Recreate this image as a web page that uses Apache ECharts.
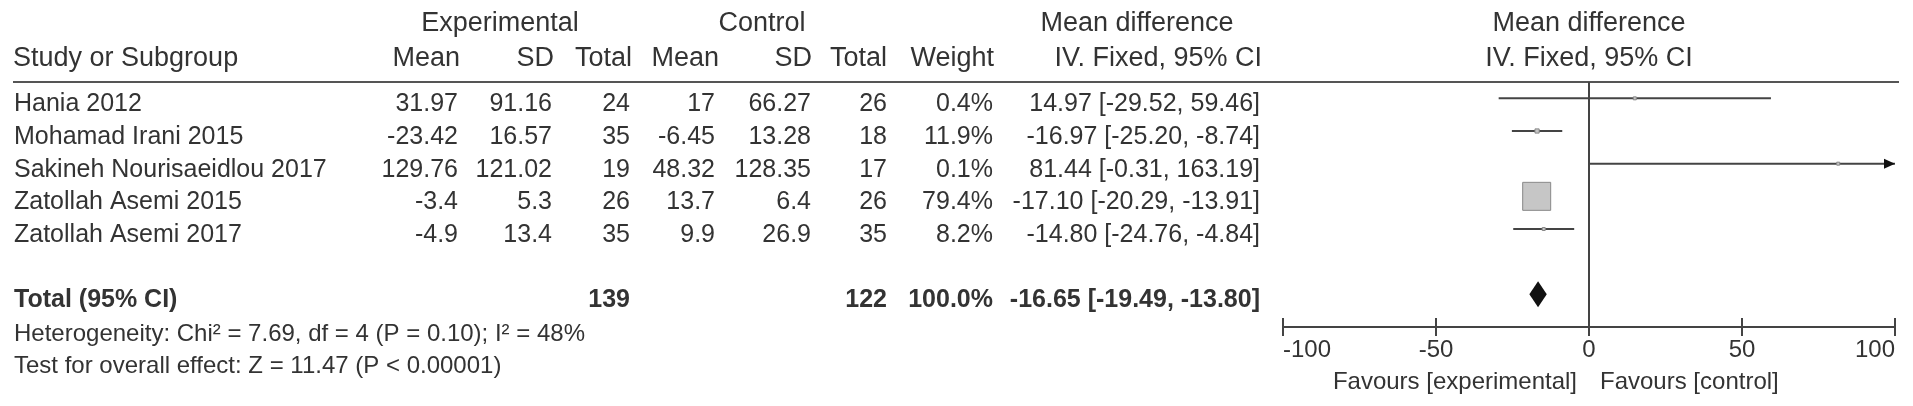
<!DOCTYPE html>
<html>
<head>
<meta charset="utf-8">
<script src="https://cdn.jsdelivr.net/npm/echarts@6/dist/echarts.min.js"></script>
<style>
  html, body { margin: 0; padding: 0; background: #fff; }
  #forest-chart { width: 1913px; height: 406px; }
</style>
</head>
<body>
<div id="forest-chart"></div>
<script>
// study data
const studies = ['Hania 2012', 'Mohamad Irani 2015', 'Sakineh Nourisaeidlou 2017', 'Zatollah Asemi 2015', 'Zatollah Asemi 2017']
const expMean = [31.97, -23.42, 129.76, -3.4, -4.9]
const expSd = [91.16, 16.57, 121.02, 5.3, 13.4]
const expTotal = [24, 35, 19, 26, 35]
const ctrlMean = [17, -6.45, 48.32, 13.7, 9.9]
const ctrlSd = [66.27, 13.28, 128.35, 6.4, 26.9]
const ctrlTotal = [26, 18, 17, 26, 35]
const weight = [0.4, 11.9, 0.1, 79.4, 8.2]
const meanDiff = [14.97, -16.97, 81.44, -17.10, -14.80]
const ciLow = [-29.52, -25.20, -0.31, -20.29, -24.76]
const ciHigh = [59.46, -8.74, 163.19, -13.91, -4.84]

const totalLabel = 'Total (95% CI)'
const totalExp = 139
const totalCtrl = 122
const totalWeight = 100.0
const totalDiff = [-16.65, -19.49, -13.80]
const heterogeneity = 'Heterogeneity: Chi² = 7.69, df = 4 (P = 0.10); I² = 48%'
const overallTest = 'Test for overall effect: Z = 11.47 (P < 0.00001)'

const xTicks = [-100, 100, 50]  // min, max, interval
const favours = ['Favours [experimental]', 'Favours [control]']

const TOTAL_ROW = 6
const FONT = '"Liberation Sans", Arial, sans-serif'
const TEXT = '#333'
const LINE = '#444'

// right edges of the table columns
const colRight = { expMean: 458, expSd: 552, expTotal: 630, ctrlMean: 715, ctrlSd: 811, ctrlTotal: 887, weight: 993, ci: 1260 }

const chart = echarts.init(document.getElementById('forest-chart'))

const fmtCi = (m, lo, hi) => `${m.toFixed(2)} [${lo.toFixed(2)}, ${hi.toFixed(2)}]`

const studySeries = {
  type: 'custom',
  clip: false,
  renderItem: (params, api) => {
    const row = api.value(0)
    const lo = api.value(2)
    const hi = api.value(3)
    const w = api.value(4)
    const [xMin, xMax] = xTicks
    const left = api.coord([Math.max(lo, xMin), row])
    const right = api.coord([Math.min(hi, xMax), row])
    const mid = api.coord([api.value(1), row])
    const size = Math.max(w * 28 / 79.4, 3)
    const children = [{
      type: 'line',
      shape: { x1: left[0], y1: left[1], x2: right[0], y2: right[1] },
      style: { stroke: LINE, lineWidth: 2 }
    }, {
      type: 'rect',
      shape: { x: mid[0] - size / 2, y: mid[1] - size / 2, width: size, height: size },
      style: { fill: '#c6c6c6', stroke: '#888', lineWidth: 1 }
    }]
    if (hi > xMax) {
      children.push({
        type: 'polygon',
        shape: { points: [[right[0], right[1]], [right[0] - 11, right[1] - 5], [right[0] - 11, right[1] + 5]] },
        style: { fill: '#111' }
      })
    }
    if (lo < xMin) {
      children.push({
        type: 'polygon',
        shape: { points: [[left[0], left[1]], [left[0] + 11, left[1] - 5], [left[0] + 11, left[1] + 5]] },
        style: { fill: '#111' }
      })
    }
    return { type: 'group', children }
  },
  data: studies.map((s, i) => [i, meanDiff[i], ciLow[i], ciHigh[i], weight[i]])
}

const totalSeries = {
  type: 'custom',
  clip: false,
  renderItem: (params, api) => {
    const row = api.value(0)
    const lo = api.coord([api.value(2), row])
    const hi = api.coord([api.value(3), row])
    const mid = api.coord([api.value(1), row])
    const h = 13
    return {
      type: 'polygon',
      shape: { points: [[lo[0], lo[1]], [mid[0], mid[1] - h], [hi[0], hi[1]], [mid[0], mid[1] + h]] },
      style: { fill: '#111' }
    }
  },
  data: [[TOTAL_ROW, totalDiff[0], totalDiff[1], totalDiff[2]]],
  markLine: {
    silent: true,
    symbol: 'none',
    label: { show: false },
    lineStyle: { color: LINE, width: 2, type: 'solid' },
    data: [{ xAxis: 0 }]
  }
}

const option = {
  animation: false,
  backgroundColor: '#fff',
  grid: {
    left: 1283,
    width: 612,
    top: 82,
    height: 245,
    containLabel: false,
    outerBoundsMode: 'none'
  },
  xAxis: [
    {
      type: 'value',
      min: xTicks[0],
      max: xTicks[1],
      interval: xTicks[2],
      position: 'bottom',
      axisLine: { show: true, onZero: false, lineStyle: { color: LINE, width: 2 } },
      axisTick: { show: true, length: 9, lineStyle: { color: LINE, width: 2 } },
      axisLabel: {
        color: TEXT,
        fontSize: 24,
        fontFamily: FONT,
        margin: 11,
        alignMinLabel: 'left',
        alignMaxLabel: 'right'
      },
      splitLine: { show: false }
    },
    {
      type: 'value',
      min: xTicks[0],
      max: xTicks[1],
      interval: xTicks[2],
      position: 'bottom',
      axisLine: { show: false, onZero: false },
      axisTick: { show: true, inside: true, length: 9, lineStyle: { color: LINE, width: 2 } },
      axisLabel: { show: false },
      splitLine: { show: false }
    }
  ],
  yAxis: {
    type: 'value',
    min: -0.5,
    max: 7,
    inverse: true,
    show: false
  },
  series: [studySeries, totalSeries]
}

chart.setOption(option)

// table text, placed on the same rows as the plot
const rowY = i => chart.convertToPixel({ yAxisIndex: 0 }, i) + 6
const x0 = chart.convertToPixel({ xAxisIndex: 0 }, 0)

const txt = (x, y, s, align, size, bold) => ({
  type: 'text',
  x: x,
  y: y,
  silent: true,
  style: {
    text: s,
    fill: TEXT,
    font: `${bold ? 'bold ' : ''}${size}px ${FONT}`,
    textAlign: align,
    textVerticalAlign: 'middle',
    align: align,
    verticalAlign: 'middle'
  }
})

const graphics = []
const H1 = 24
const H2 = 59
const HS = 27
graphics.push(txt(500, H1, 'Experimental', 'center', HS))
graphics.push(txt(762, H1, 'Control', 'center', HS))
graphics.push(txt(1137, H1, 'Mean difference', 'center', HS))
graphics.push(txt(x0, H1, 'Mean difference', 'center', HS))
graphics.push(txt(13, H2, 'Study or Subgroup', 'left', HS))
graphics.push(txt(colRight.expMean + 2, H2, 'Mean', 'right', HS))
graphics.push(txt(colRight.expSd + 2, H2, 'SD', 'right', HS))
graphics.push(txt(colRight.expTotal + 2, H2, 'Total', 'right', HS))
graphics.push(txt(colRight.ctrlMean + 4, H2, 'Mean', 'right', HS))
graphics.push(txt(colRight.ctrlSd + 1, H2, 'SD', 'right', HS))
graphics.push(txt(colRight.ctrlTotal, H2, 'Total', 'right', HS))
graphics.push(txt(colRight.weight + 1, H2, 'Weight', 'right', HS))
graphics.push(txt(colRight.ci + 2, H2, 'IV. Fixed, 95% CI', 'right', HS))
graphics.push(txt(x0, H2, 'IV. Fixed, 95% CI', 'center', HS))

// header rule
graphics.push({
  type: 'line',
  silent: true,
  shape: { x1: 13, y1: 82, x2: 1899, y2: 82 },
  style: { stroke: '#555', lineWidth: 2 }
})

const RS = 25
studies.forEach((s, i) => {
  const y = rowY(i)
  graphics.push(txt(14, y, s, 'left', RS))
  graphics.push(txt(colRight.expMean, y, String(expMean[i]), 'right', RS))
  graphics.push(txt(colRight.expSd, y, String(expSd[i]), 'right', RS))
  graphics.push(txt(colRight.expTotal, y, String(expTotal[i]), 'right', RS))
  graphics.push(txt(colRight.ctrlMean, y, String(ctrlMean[i]), 'right', RS))
  graphics.push(txt(colRight.ctrlSd, y, String(ctrlSd[i]), 'right', RS))
  graphics.push(txt(colRight.ctrlTotal, y, String(ctrlTotal[i]), 'right', RS))
  graphics.push(txt(colRight.weight, y, weight[i].toFixed(1) + '%', 'right', RS))
  graphics.push(txt(colRight.ci, y, fmtCi(meanDiff[i], ciLow[i], ciHigh[i]), 'right', RS))
})

const ty = rowY(TOTAL_ROW)
graphics.push(txt(14, ty, totalLabel, 'left', RS, true))
graphics.push(txt(colRight.expTotal, ty, String(totalExp), 'right', RS, true))
graphics.push(txt(colRight.ctrlTotal, ty, String(totalCtrl), 'right', RS, true))
graphics.push(txt(colRight.weight, ty, totalWeight.toFixed(1) + '%', 'right', RS, true))
graphics.push(txt(colRight.ci, ty, fmtCi(totalDiff[0], totalDiff[1], totalDiff[2]), 'right', RS, true))
graphics.push(txt(14, rowY(TOTAL_ROW + 1) + 1, heterogeneity, 'left', 24))
graphics.push(txt(14, rowY(TOTAL_ROW + 2) + 1, overallTest, 'left', 24))

// favours labels under the axis
graphics.push(txt(x0 - 12, 382, favours[0], 'right', 24))
graphics.push(txt(x0 + 11, 382, favours[1], 'left', 24))

chart.setOption({ graphic: graphics })
</script>
</body>
</html>
